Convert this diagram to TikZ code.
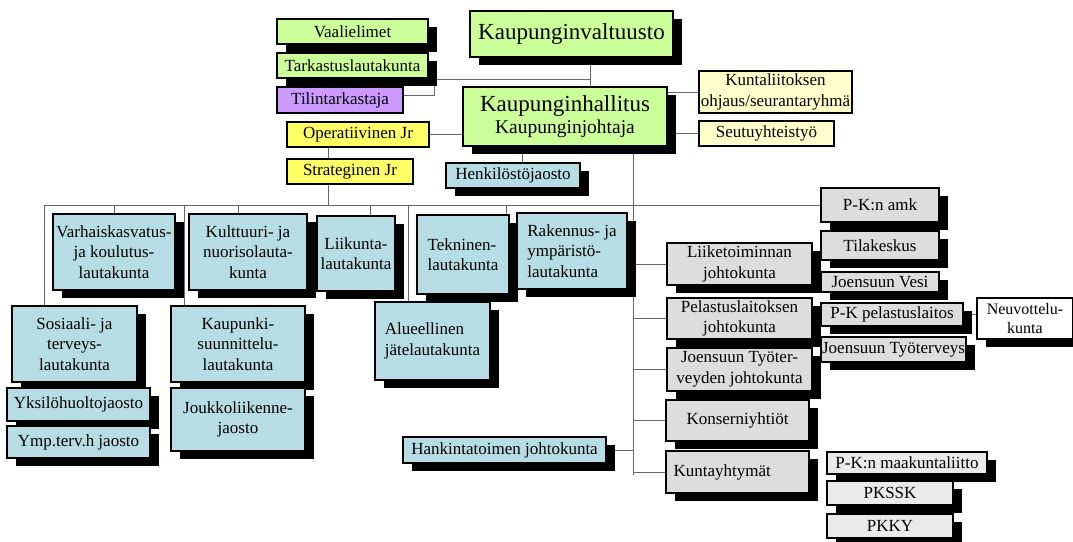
\documentclass[tikz,border=0pt]{standalone}
\usepackage{fontspec}
\setmainfont{Liberation Serif}
\usetikzlibrary{shadows,backgrounds}

\definecolor{vihrea}{RGB}{204,255,153}
\definecolor{sini}{RGB}{183,221,228}
\definecolor{harmaa}{RGB}{221,221,221}
\definecolor{vharmaa}{RGB}{234,234,234}
\definecolor{violetti}{RGB}{204,153,255}
\definecolor{keltainen}{RGB}{255,255,102}
\definecolor{vkeltainen}{RGB}{255,255,204}

\tikzset{
  box/.style={draw=black, line width=1.1pt, align=center, inner xsep=1pt, inner ysep=1pt,
    font=\fontsize{17}{20.5}\selectfont},
  shad/.style={drop shadow={shadow xshift=9pt, shadow yshift=-8pt, opacity=1, fill=black}},
  wh/.style 2 args={minimum width=#1pt, minimum height=#2pt},
  conn/.style={draw=black!60, line width=0.9pt},
}

\begin{document}
\begin{tikzpicture}[x=1pt, y=-1pt]
  \useasboundingbox (0,0) rectangle (1073,541);
  % top
  \node[box, shad, fill=vihrea, wh={151}{25}] (vaal) at (352.5,31.5) {Vaalielimet};
  \node[box, shad, fill=vihrea, wh={151}{25}] (tark) at (352.5,65.5) {Tarkastuslautakunta};
  \node[box, fill=violetti, wh={126}{26}] (tili) at (340,100) {Tilintarkastaja};
  \node[box, shad, fill=vihrea, wh={203}{46}, font=\fontsize{23}{26}\selectfont] (valt) at (571.5,34) {Kaupunginvaltuusto};
  \node[box, shad, fill=vihrea, wh={204}{59}] (hall) at (565,116.5)
    {\fontsize{23}{26}\selectfont Kaupunginhallitus\\[2pt] \fontsize{19.5}{25}\selectfont Kaupunginjohtaja};
  \node[box, fill=keltainen, wh={142}{25}] (opj) at (358,134.5) {Operatiivinen Jr};
  \node[box, fill=keltainen, wh={126}{25}] (str) at (350,171.5) {Strateginen Jr};
  \node[box, shad, fill=sini, wh={134}{25}] (henk) at (513,175.5) {Henkilöstöjaosto};
  \node[box, fill=vkeltainen, wh={153}{42}] (kunl) at (775.5,92) {Kuntaliitoksen\\ohjaus/seurantaryhmä};
  \node[box, fill=vkeltainen, wh={135}{25}] (seut) at (766.5,133.5) {Seutuyhteistyö};

  % lautakunnat
  \node[box, shad, fill=sini, wh={122}{76}] (varh) at (114,252) {Varhaiskasvatus-\\ja koulutus-\\lautakunta};
  \node[box, shad, fill=sini, wh={118}{76}] (kult) at (248,252) {Kulttuuri- ja\\nuorisolauta-\\kunta};
  \node[box, shad, fill=sini, wh={78}{75}] (liik) at (356,253.5) {Liikunta-\\lautakunta};
  \node[box, shad, fill=sini, wh={92}{79}, align=left] (tekn) at (463,254.5) {Tekninen-\\lautakunta};
  \node[box, shad, fill=sini, wh={110}{76}, align=left] (rake) at (572,251) {Rakennus- ja\\ympäristö-\\lautakunta};
  \node[box, shad, fill=sini, wh={115}{78}, align=left] (alue) at (432.5,341) {Alueellinen\\jätelautakunta};
  \node[box, shad, fill=sini, wh={125}{76}] (sos) at (74.5,344) {Sosiaali- ja\\terveys-\\lautakunta};
  \node[box, shad, fill=sini, wh={143}{33}] (yks) at (78.5,404.5) {Yksilöhuoltojaosto};
  \node[box, shad, fill=sini, wh={143}{32}] (ymp) at (78.5,442) {Ymp.terv.h jaosto};
  \node[box, shad, fill=sini, wh={134}{76}] (kaup) at (238,344) {Kaupunki-\\suunnittelu-\\lautakunta};
  \node[box, shad, fill=sini, wh={134}{63}] (jouk) at (238,419.5) {Joukkoliikenne-\\jaosto};
  \node[box, shad, fill=sini, wh={203}{26}] (hank) at (504.5,450) {Hankintatoimen johtokunta};

  % johtokunnat ja yhtiot
  \node[box, shad, fill=harmaa, wh={118}{34}] (amk) at (880,205) {P-K:n amk};
  \node[box, shad, fill=harmaa, wh={118}{29}] (tila) at (880,245.5) {Tilakeskus};
  \node[box, shad, fill=harmaa, wh={145}{42}] (liike) at (739.5,264) {Liiketoiminnan\\johtokunta};
  \node[box, shad, fill=harmaa, wh={118}{20}] (vesi) at (880,282) {Joensuun Vesi};
  \node[box, shad, fill=harmaa, wh={145}{41}] (pel) at (739.5,318.5) {Pelastuslaitoksen\\johtokunta};
  \node[box, shad, fill=harmaa, wh={142}{23}] (pkpe) at (892,314.5) {P-K pelastuslaitos};
  \node[box, shad, fill=white, wh={96}{41}, font=\fontsize{16}{19.5}\selectfont] (neuv) at (1025,318.5) {Neuvottelu-\\kunta};
  \node[box, shad, fill=harmaa, wh={145}{25}] (tyot) at (893.5,349.5) {Joensuun Työterveys};
  \node[box, shad, fill=harmaa, wh={145}{43}] (tyoj) at (739.5,369.5) {Joensuun Työter-\\veyden johtokunta};
  \node[box, shad, fill=harmaa, wh={143}{41}] (kons) at (737.5,420.5) {Konserniyhtiöt};
  \node[box, shad, fill=harmaa, wh={143}{42}, align=left, text width=128pt] (kuya) at (737.5,472) {Kuntayhtymät};
  \node[box, shad, fill=vharmaa, wh={160}{22}] (maak) at (907,463) {P-K:n maakuntaliitto};
  \node[box, shad, fill=vharmaa, wh={126}{24}] (pkssk) at (890,493) {PKSSK};
  \node[box, shad, fill=vharmaa, wh={126}{24}] (pkky) at (890,526) {PKKY};

  \begin{pgfonlayer}{background}
    \fill[white] (0,0) rectangle (1073,541);
    \coordinate (jv) at (590,79);
    \coordinate (ta) at (434,65.5);
    \coordinate (sb) at (328,205);
    \coordinate (mv) at (633,475);
    \coordinate (bl) at (44,205);
    \coordinate (bk) at (184,205);
    \coordinate (ba) at (408,205);
    % valtuusto ja hallitus
    \draw[conn] (valt.south -| jv) -- (hall.north -| jv);
    \draw[conn] (tark.east |- jv) -- (jv);
    \draw[conn] (tark.east) -- (ta) |- ([yshift=5pt]tili.east);
    \draw[conn] (opj.east) -- (opj.east -| hall.west);
    \draw[conn] (opj.south -| sb) -- (str.north -| sb);
    \draw[conn] (str.south -| sb) -- (sb);
    \draw[conn] ([xshift=9pt]henk.north) -- ([xshift=9pt]henk.north |- hall.south);
    \draw[conn] (kunl.west) -- (kunl.west -| hall.east);
    \draw[conn] (seut.west) -- (seut.west -| hall.east);
    \draw[conn] (hall.south -| mv) -- (mv);
    % lautakunnat
    \draw[conn] (bl) -- (amk.west);
    \draw[conn] (bl) -- (bl |- sos.north);
    \draw[conn] (bk) -- (bk |- kaup.north);
    \draw[conn] (ba) -- (ba |- alue.north);
    \draw[conn] (varh.north) -- (varh.north |- bl);
    \draw[conn] ([xshift=-10pt]kult.north) -- ([xshift=-10pt]kult.north |- bl);
    \draw[conn] ([xshift=14pt]liik.north) -- ([xshift=14pt]liik.north |- bl);
    \draw[conn] ([xshift=-3pt]tekn.north east) -- ([xshift=-3pt]tekn.north east |- bl);
    % johtokunnat
    \draw[conn] (liike.west -| mv) -- (liike.west);
    \draw[conn] (pel.west -| mv) -- (pel.west);
    \draw[conn] (tyoj.west -| mv) -- (tyoj.west);
    \draw[conn] (kons.west -| mv) -- (kons.west);
    \draw[conn] (kuya.west -| mv) -- (kuya.west);
    \draw[conn] (hank.east) -- (hank.east -| mv);
    \draw[conn] (pkpe.east) -- (pkpe.east -| neuv.west);
  \end{pgfonlayer}
\end{tikzpicture}
\end{document}
